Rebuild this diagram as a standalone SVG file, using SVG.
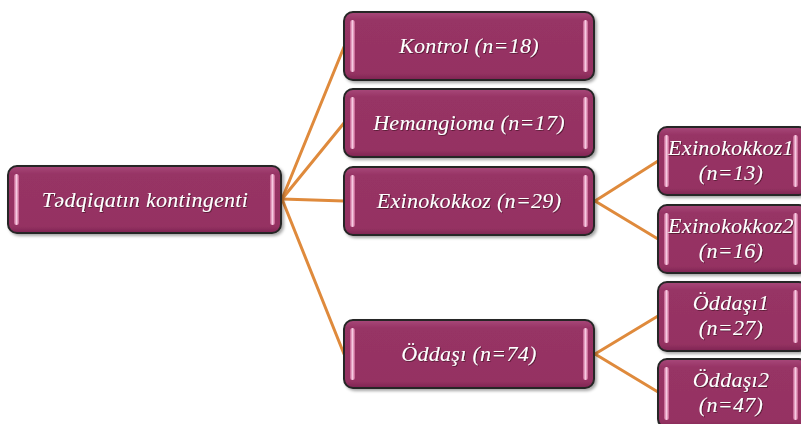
<svg xmlns="http://www.w3.org/2000/svg" width="801" height="424" viewBox="0 0 801 424">
  <defs>
    <linearGradient id="strip" x1="0" y1="0" x2="1" y2="0">
      <stop offset="0" stop-color="#c25a8a"/>
      <stop offset="0.5" stop-color="#f7cbe2"/>
      <stop offset="1" stop-color="#c25a8a"/>
    </linearGradient>
    <linearGradient id="body" x1="0" y1="0" x2="0" y2="1">
      <stop offset="0" stop-color="#a8487a"/>
      <stop offset="0.12" stop-color="#973465"/>
      <stop offset="0.9" stop-color="#953262"/>
      <stop offset="1" stop-color="#7e2552"/>
    </linearGradient>
    <filter id="shadow" x="-10%" y="-10%" width="120%" height="130%">
      <feDropShadow dx="2" dy="2" stdDeviation="1.5" flood-color="#000" flood-opacity="0.35"/>
    </filter>
    <filter id="glow" x="-5%" y="-20%" width="110%" height="140%">
      <feDropShadow dx="0.8" dy="0.8" stdDeviation="0.6" flood-color="#3a0a22" flood-opacity="0.8"/>
    </filter>
  </defs>
  <style>
    .box { fill: url(#body); stroke: #262626; stroke-width: 2; filter: url(#shadow); }
    .hl { fill: url(#strip); }
    .lbl { font-family: "Liberation Serif", "Times New Roman", serif; font-style: italic; font-size: 22px; fill: #ffffff; text-anchor: middle; letter-spacing: 0.3px; filter: url(#glow); }
    .edge { stroke: #df8a3c; stroke-width: 3; fill: none; stroke-linecap: round; }
  </style>

  <rect width="801" height="424" fill="#ffffff"/>

  <g id="connectors">
    <path class="edge" d="M282 199 L344 47"/>
    <path class="edge" d="M282 199 L344 123"/>
    <path class="edge" d="M282 199 L344 201"/>
    <path class="edge" d="M282 199 L344 354"/>
    <path class="edge" d="M595 201 L658 161"/>
    <path class="edge" d="M595 201 L658 239"/>
    <path class="edge" d="M595 354 L658 316"/>
    <path class="edge" d="M595 354 L658 392"/>
  </g>

  <g id="root">
    <rect class="box" x="8" y="166" width="273" height="67" rx="9"/>
    <rect class="hl" x="14" y="174" width="5" height="51" rx="2.5"/>
    <rect class="hl" x="270" y="174" width="5" height="51" rx="2.5"/>
    <text class="lbl" x="145" y="207">Tədqiqatın kontingenti</text>
  </g>

  <g id="kontrol">
    <rect class="box" x="344" y="12" width="250" height="68" rx="9"/>
    <rect class="hl" x="350" y="20" width="5" height="52" rx="2.5"/>
    <rect class="hl" x="583" y="20" width="5" height="52" rx="2.5"/>
    <text class="lbl" x="469" y="53">Kontrol (n=18)</text>
  </g>

  <g id="hemangioma">
    <rect class="box" x="344" y="89" width="250" height="68" rx="9"/>
    <rect class="hl" x="350" y="97" width="5" height="52" rx="2.5"/>
    <rect class="hl" x="583" y="97" width="5" height="52" rx="2.5"/>
    <text class="lbl" x="469" y="130">Hemangioma (n=17)</text>
  </g>

  <g id="exinokokkoz">
    <rect class="box" x="344" y="167" width="250" height="68" rx="9"/>
    <rect class="hl" x="350" y="175" width="5" height="52" rx="2.5"/>
    <rect class="hl" x="583" y="175" width="5" height="52" rx="2.5"/>
    <text class="lbl" x="469" y="208">Exinokokkoz (n=29)</text>
  </g>

  <g id="oddasi">
    <rect class="box" x="344" y="320" width="250" height="68" rx="9"/>
    <rect class="hl" x="350" y="328" width="5" height="52" rx="2.5"/>
    <rect class="hl" x="583" y="328" width="5" height="52" rx="2.5"/>
    <text class="lbl" x="469" y="361">Öddaşı (n=74)</text>
  </g>

  <g id="exinokokkoz1">
    <rect class="box" x="658" y="127" width="150" height="68" rx="9"/>
    <rect class="hl" x="664" y="135" width="5" height="52" rx="2.5"/>
    <rect class="hl" x="793" y="135" width="5" height="52" rx="2.5"/>
    <text class="lbl" x="731" y="155">Exinokokkoz1</text>
    <text class="lbl" x="731" y="180">(n=13)</text>
  </g>

  <g id="exinokokkoz2">
    <rect class="box" x="658" y="205" width="150" height="68" rx="9"/>
    <rect class="hl" x="664" y="213" width="5" height="52" rx="2.5"/>
    <rect class="hl" x="793" y="213" width="5" height="52" rx="2.5"/>
    <text class="lbl" x="731" y="233">Exinokokkoz2</text>
    <text class="lbl" x="731" y="258">(n=16)</text>
  </g>

  <g id="oddasi1">
    <rect class="box" x="658" y="282" width="150" height="69" rx="9"/>
    <rect class="hl" x="664" y="290" width="5" height="53" rx="2.5"/>
    <rect class="hl" x="793" y="290" width="5" height="53" rx="2.5"/>
    <text class="lbl" x="731" y="310">Öddaşı1</text>
    <text class="lbl" x="731" y="335">(n=27)</text>
  </g>

  <g id="oddasi2">
    <rect class="box" x="658" y="359" width="150" height="69" rx="9"/>
    <rect class="hl" x="664" y="367" width="5" height="53" rx="2.5"/>
    <rect class="hl" x="793" y="367" width="5" height="53" rx="2.5"/>
    <text class="lbl" x="731" y="387">Öddaşı2</text>
    <text class="lbl" x="731" y="412">(n=47)</text>
  </g>
</svg>
